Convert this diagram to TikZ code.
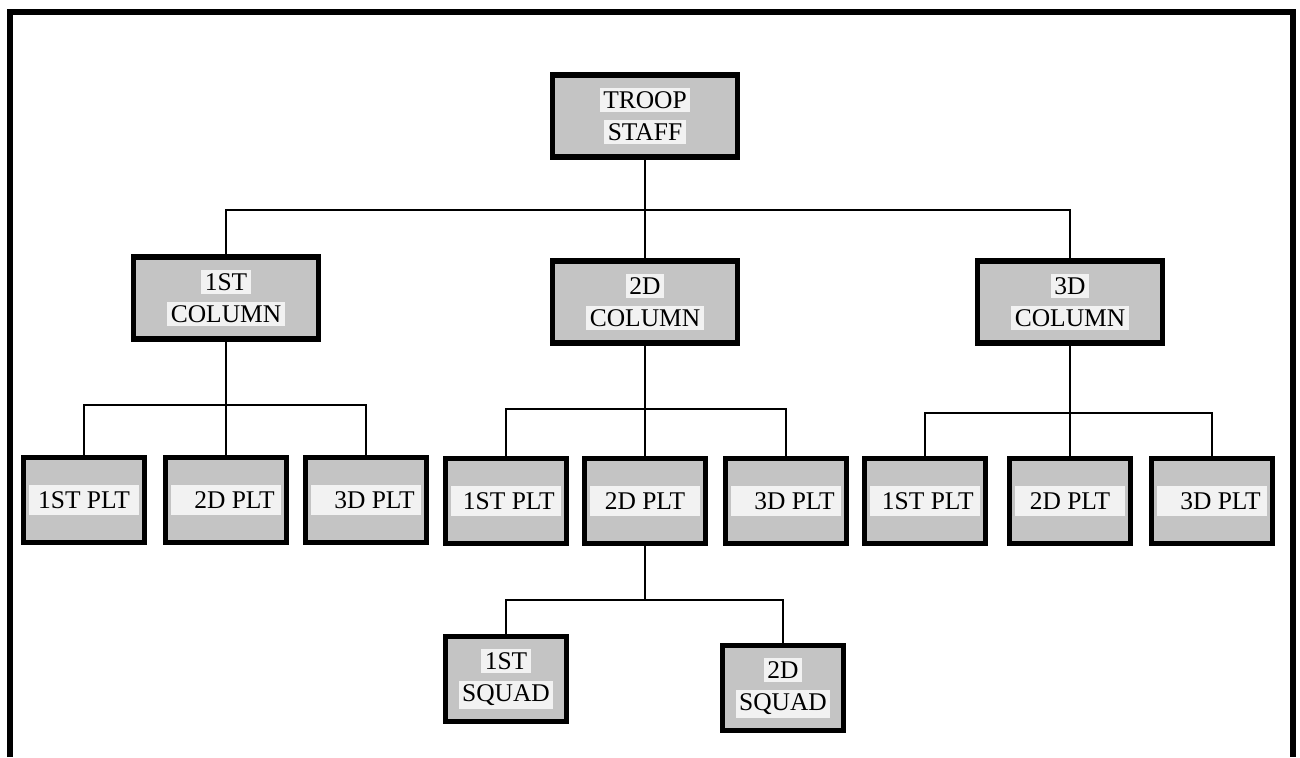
\documentclass[tikz,border=0pt]{standalone}
\usepackage{fontspec}
\setmainfont{Liberation Serif}
\usepackage{xcolor}
\usepackage{tikz}
\usetikzlibrary{positioning}
\definecolor{boxgray}{gray}{0.77}
\definecolor{litegray}{gray}{0.95}
\newcommand{\lite}[1]{{\setlength{\fboxsep}{2pt}\colorbox{litegray}{#1}}}
\newcommand{\band}[1]{{\setlength{\fboxsep}{3.5pt}\colorbox{litegray}{\makebox[1.95cm]{#1}}}}

\begin{document}
\begin{tikzpicture}[x=0.02cm, y=-0.02cm,
  unit/.style={rectangle, draw, line width=3pt, fill=boxgray, minimum width=3.7cm, minimum height=1.64cm, align=center, inner sep=0pt, font=\fontsize{14.5}{18.5}\selectfont},
  plt/.style={unit, minimum width=2.42cm, minimum height=1.7cm},
  conn/.style={line width=0.6pt}
]
  \useasboundingbox (0,0) rectangle (1300,757);
  % frame, open at the bottom
  \draw[line width=3pt] (10,757) -- (10,12) -- (1293,12) -- (1293,757);

  \node[unit] (troop) at (645,116) {\lite{TROOP}\\\lite{STAFF}};
  \node[unit] (col1) at (226,298) {\lite{1ST}\\\lite{COLUMN}};
  \node[unit] (col2) at (645,302) {\lite{2D}\\\lite{COLUMN}};
  \node[unit] (col3) at (1070,302) {\lite{3D}\\\lite{COLUMN}};

  \node[plt] (p11) at (84,500) {\band{1ST PLT}};
  \node[plt] (p12) at (226,500) {\band{\hfill 2D PLT}};
  \node[plt] (p13) at (366,500) {\band{\hfill 3D PLT}};
  \node[plt] (p21) at (506,501) {\band{\hfill 1ST PLT}};
  \node[plt] (p22) at (645,501) {\band{2D PLT}};
  \node[plt] (p23) at (786,501) {\band{\hfill 3D PLT}};
  \node[plt] (p31) at (925,501) {\band{\hfill 1ST PLT}};
  \node[plt] (p32) at (1070,501) {\band{2D PLT}};
  \node[plt] (p33) at (1212,501) {\band{\hfill 3D PLT}};

  \node[plt] (sq1) at (506,679) {\lite{1ST}\\\lite{SQUAD}};
  \node[plt] (sq2) at (783,688) {\lite{2D}\\\lite{SQUAD}};

  \coordinate (bus0) at (645,210);
  \coordinate (bus1) at (226,405);
  \coordinate (bus2) at (645,409);
  \coordinate (bus3) at (1070,413);
  \coordinate (bus4) at (645,600);

  \draw[conn] (troop) -- (col2);
  \draw[conn] (col1.north) |- (bus0) -| (col3.north);
  \draw[conn] (col1) -- (p12);
  \draw[conn] (p11.north) |- (bus1) -| (p13.north);
  \draw[conn] (col2) -- (p22);
  \draw[conn] (p21.north) |- (bus2) -| (p23.north);
  \draw[conn] (col3) -- (p32);
  \draw[conn] (p31.north) |- (bus3) -| (p33.north);
  \draw[conn] (p22.south) -- (bus4);
  \draw[conn] (sq1.north) |- (bus4) -| (sq2.north);
\end{tikzpicture}
\end{document}
